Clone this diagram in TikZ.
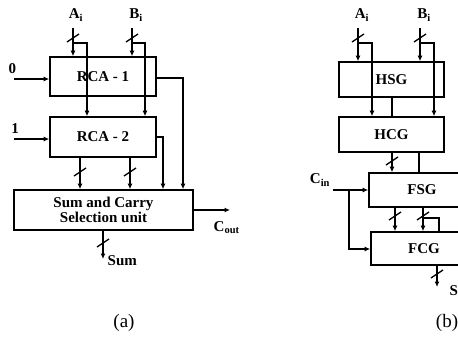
\documentclass[tikz,border=0pt]{standalone}
\usepackage{fontspec}
\setmainfont{Liberation Serif}
\usetikzlibrary{arrows.meta}
\begin{document}
\begin{tikzpicture}[x=1pt,y=-1pt, line width=1.4pt,
  arr/.style={-{Latex[length=5.5pt,width=5pt]}},
  blk/.style={draw, rectangle, inner sep=0pt, line width=1.6pt, font=\fontsize{15}{17}\selectfont\bfseries},
  lbl/.style={inner sep=0pt, font=\fontsize{15}{17}\selectfont\bfseries},
  captext/.style={inner sep=0pt, font=\fontsize{19}{22}\selectfont},
  slash/.pic={\draw[line width=1.3pt] (-6,4) -- (6,-4);}]
\useasboundingbox (0,0) rectangle (458,349);
\clip (0,0) rectangle (458,349);

% ---------------- (a) ----------------
\node[blk, minimum width=106pt, minimum height=39pt] (rca1) at (103,76.5) {RCA - 1};
\node[blk, minimum width=106pt, minimum height=40pt] (rca2) at (103,137) {RCA - 2};
\node[blk, minimum width=179pt, minimum height=40pt, align=center] (scs) at (103.5,210) {Sum and Carry\\[-2pt]Selection unit};

\node[lbl] (ai) at (76,15) {A\textsubscript{i}};
\node[lbl] (bi) at (136,15) {B\textsubscript{i}};
\node[lbl] (zero) at (12.5,69) {0};
\node[lbl] (one) at (15,129) {1};
\node[lbl, anchor=west] (cout) at (213,228) {C\textsubscript{out}};
\node[lbl, anchor=west] (sum) at (107,261) {Sum};
\node[captext] (capa) at (124,323) {(a)};

\coordinate (aTop) at (73,28);
\coordinate (bTop) at (132,28);
\coordinate (aBr) at (87,43);
\coordinate (bBr) at (145,43);
\draw[arr] (aTop) -- (aTop |- rca1.north);
\draw[arr] (aTop |- aBr) -| (aBr |- rca2.north);
\draw[arr] (bTop) -- (bTop |- rca1.north);
\draw[arr] (bTop |- bBr) -| (bBr |- rca2.north);
\pic at (73,38) {slash};
\pic at (132,38) {slash};

\coordinate (zin) at (14,79);
\coordinate (oin) at (14,139);
\draw[arr] (zin) -- (zin -| rca1.west);
\draw[arr] (oin) -- (oin -| rca2.west);

\coordinate (r1o) at (183,78);
\coordinate (r2o) at (163,137);
\draw[arr] (r1o -| rca1.east) -| (r1o |- scs.north);
\draw[arr] (r2o -| rca2.east) -| (r2o |- scs.north);

\coordinate (s1) at (80,0);
\coordinate (s2) at (130,0);
\draw[arr] (s1 |- rca2.south) -- (s1 |- scs.north);
\draw[arr] (s2 |- rca2.south) -- (s2 |- scs.north);
\pic at (80,172) {slash};
\pic at (130,172) {slash};

\coordinate (co) at (230,210);
\draw[arr] (co -| scs.east) -- (co);
\coordinate (so) at (103,259);
\draw[arr] (so |- scs.south) -- (so);
\pic at (103,243) {slash};

% ---------------- (b) ----------------
\node[blk, minimum width=105pt, minimum height=35pt] (hsg) at (391.5,79.5) {HSG};
\node[blk, minimum width=105pt, minimum height=35pt] (hcg) at (391.5,134.5) {HCG};
\node[blk, minimum width=106pt, minimum height=34pt] (fsg) at (422,190) {FSG};
\node[blk, minimum width=106pt, minimum height=33pt] (fcg) at (424,248.5) {FCG};

\node[lbl] (ai2) at (362,15) {A\textsubscript{i}};
\node[lbl] (bi2) at (424,15) {B\textsubscript{i}};
\node[lbl] (cin) at (320,180) {C\textsubscript{in}};
\node[lbl, anchor=west] (sum2) at (449,291) {Sum};
\node[captext] (capb) at (447,323) {(b)};

\coordinate (a2Top) at (358,28);
\coordinate (b2Top) at (420,28);
\coordinate (a2Br) at (372,43);
\coordinate (b2Br) at (434,43);
\draw[arr] (a2Top) -- (a2Top |- hsg.north);
\draw[arr] (a2Top |- a2Br) -| (a2Br |- hcg.north);
\draw[arr] (b2Top) -- (b2Top |- hsg.north);
\draw[arr] (b2Top |- b2Br) -| (b2Br |- hcg.north);
\pic at (358,38) {slash};
\pic at (420,38) {slash};

\coordinate (h0) at (392,0);
\draw (h0 |- hsg.south) -- (h0 |- hcg.north);
\coordinate (h1) at (392,0);
\coordinate (h2) at (419,0);
\draw[arr] (h1 |- hcg.south) -- (h1 |- fsg.north);
\draw (h2 |- hcg.south) -- (h2 |- fsg.north);
\pic at (392,161) {slash};

\coordinate (cinS) at (333,190);
\coordinate (cj) at (349,190);
\coordinate (cb) at (349,249);
\draw[arr] (cinS) -- (cinS -| fsg.west);
\draw[arr] (cj) -- (cb) -- (cb -| fcg.west);

\coordinate (f1) at (395,0);
\coordinate (f2) at (423,0);
\coordinate (fBr) at (439,218);
\draw[arr] (f1 |- fsg.south) -- (f1 |- fcg.north);
\draw[arr] (f2 |- fsg.south) -- (f2 |- fcg.north);
\draw (f2 |- fBr) -| (fBr |- fcg.north);
\pic at (395,216) {slash};
\pic at (423,216) {slash};

\coordinate (o2) at (437,287);
\draw[arr] (o2 |- fcg.south) -- (o2);
\pic at (437,274) {slash};
\end{tikzpicture}
\end{document}
